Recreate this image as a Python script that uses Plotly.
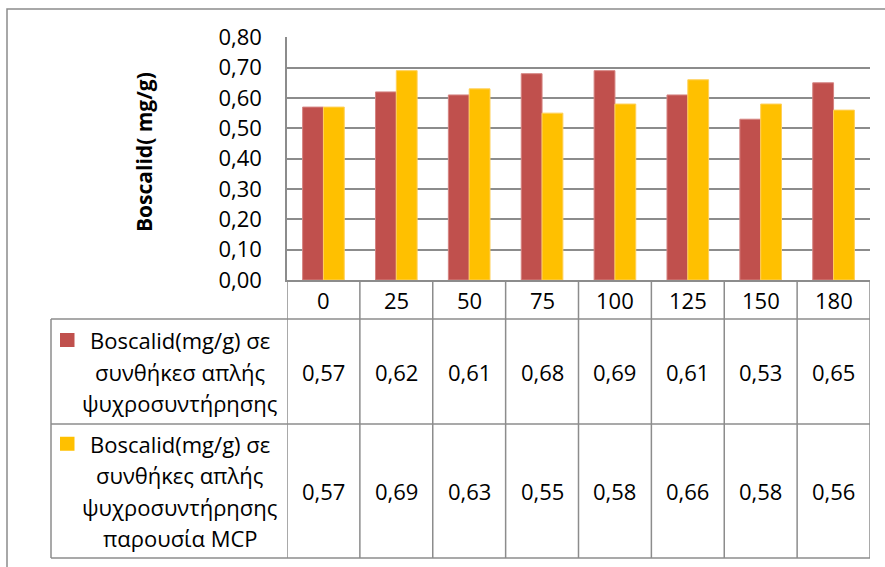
import plotly.graph_objects as go

# Storage time (days) and Boscalid content for the two storage conditions
days = ["0", "25", "50", "75", "100", "125", "150", "180"]
cold_storage = [0.57, 0.62, 0.61, 0.68, 0.69, 0.61, 0.53, 0.65]
cold_storage_mcp = [0.57, 0.69, 0.63, 0.55, 0.58, 0.66, 0.58, 0.56]

series_names = [
    ["Boscalid(mg/g) σε", "συνθήκεσ απλής", "ψυχροσυντήρησης"],
    ["Boscalid(mg/g) σε", "συνθήκες απλής", "ψυχροσυντήρησης", "παρουσία MCP"],
]
y_title = "Boscalid( mg/g)"
y_ticks = [0.0, 0.1, 0.2, 0.3, 0.4, 0.5, 0.6, 0.7, 0.8]

RED = "#C0504D"
GOLD = "#FFC000"
GRID = "#8C8C8C"
FONT = "Open Sans"
FS = 22

W, H = 885, 567


def fx(p):
    return p / W


def fy(p):
    return 1 - p / H


# pixel layout of plot area and data table
PLOT_L, PLOT_R, PLOT_T, PLOT_B = 287, 870, 37.3, 280
TABLE_L = 51
ROW_LINES = [319, 424, 558]
row_spans = [(319, 424), (424, 558)]

fig = go.Figure()
fig.add_trace(go.Bar(
    x=days, y=cold_storage, name=" ".join(series_names[0]),
    marker=dict(color=RED, line=dict(color="#D58482", width=1)),
    hoverinfo="x+y",
))
fig.add_trace(go.Bar(
    x=days, y=cold_storage_mcp, name=" ".join(series_names[1]),
    marker=dict(color=GOLD, line=dict(color="#FFD05A", width=1)),
    hoverinfo="x+y",
))

shapes = []
annotations = []

# outer chart frame (runs off the right and bottom edges)
shapes.append(dict(type="rect", xref="paper", yref="paper",
                   x0=fx(7), x1=1.02, y0=-0.02, y1=fy(9),
                   line=dict(color=GRID, width=1.5), fillcolor="rgba(0,0,0,0)",
                   layer="below"))

# horizontal table rules
for yl in ROW_LINES:
    shapes.append(dict(type="line", xref="paper", yref="paper",
                       x0=fx(TABLE_L), x1=fx(PLOT_R), y0=fy(yl), y1=fy(yl),
                       line=dict(color=GRID, width=1.5)))
# left edge of the legend column
shapes.append(dict(type="line", xref="paper", yref="paper",
                   x0=fx(TABLE_L), x1=fx(TABLE_L), y0=fy(ROW_LINES[0]), y1=fy(ROW_LINES[-1]),
                   line=dict(color=GRID, width=1.5)))
# column dividers between categories
for k in range(len(days) + 1):
    shapes.append(dict(type="line", xref="x", yref="paper",
                       x0=k - 0.5, x1=k - 0.5, y0=fy(PLOT_B), y1=fy(ROW_LINES[-1]),
                       line=dict(color=GRID, width=1.5)))

# header row with the day labels
for i, d in enumerate(days):
    annotations.append(dict(x=i, xref="x", y=fy((PLOT_B + ROW_LINES[0]) / 2), yref="paper",
                            text=d, showarrow=False, xanchor="center", yanchor="middle",
                            font=dict(family=FONT, size=FS, color="black")))

# value cells
for (top, bot), vals in zip(row_spans, [cold_storage, cold_storage_mcp]):
    for i, v in enumerate(vals):
        annotations.append(dict(x=i, xref="x", y=fy((top + bot) / 2), yref="paper",
                                text=f"{v:.2f}".replace(".", ","), showarrow=False,
                                xanchor="center", yanchor="middle",
                                font=dict(family=FONT, size=FS, color="black")))

# legend keys and series names in the first column
LINE_STEP = 31.5
for (top, bot), lines, col in zip(row_spans, series_names, [RED, GOLD]):
    mid = (top + bot) / 2
    first = mid - LINE_STEP * (len(lines) - 1) / 2
    for i, line in enumerate(lines):
        annotations.append(dict(x=fx(180), xref="paper", y=fy(first + i * LINE_STEP), yref="paper",
                                text=line, showarrow=False, xanchor="center", yanchor="middle",
                                font=dict(family=FONT, size=FS, color="black")))
    shapes.append(dict(type="rect", xref="paper", yref="paper",
                       x0=fx(60), x1=fx(74.5), y0=fy(first + 7), y1=fy(first - 7),
                       fillcolor=col, line=dict(width=0)))

# y axis title
annotations.append(dict(x=fx(144), xref="paper", y=fy(152), yref="paper",
                        text=f"<b>{y_title}</b>", textangle=-90, showarrow=False,
                        xanchor="center", yanchor="middle",
                        font=dict(family=FONT, size=21, color="black")))

fig.update_layout(
    width=W, height=H,
    margin=dict(l=0, r=0, t=0, b=0, pad=0, autoexpand=False),
    paper_bgcolor="white", plot_bgcolor="white",
    separators=",.",
    barmode="group", bargap=1.5 / 3.5, bargroupgap=0,
    showlegend=False,
    shapes=shapes, annotations=annotations,
    xaxis=dict(domain=[fx(PLOT_L), fx(PLOT_R)], type="category", range=[-0.5, len(days) - 0.5],
               showticklabels=False, showgrid=False, zeroline=False, automargin=False,
               showline=True, linecolor=GRID, linewidth=1.5, ticks=""),
    yaxis=dict(domain=[fy(PLOT_B), fy(PLOT_T)], range=[0, 0.8], tickvals=y_ticks,
               tickformat=".2f", showgrid=True, gridcolor=GRID, gridwidth=1.5,
               zeroline=False, showline=True, linecolor=GRID, linewidth=1.5, ticks="",
               ticklabelstandoff=19, automargin=False,
               tickfont=dict(family=FONT, size=FS, color="black")),
)

fig.write_html("out.html")
